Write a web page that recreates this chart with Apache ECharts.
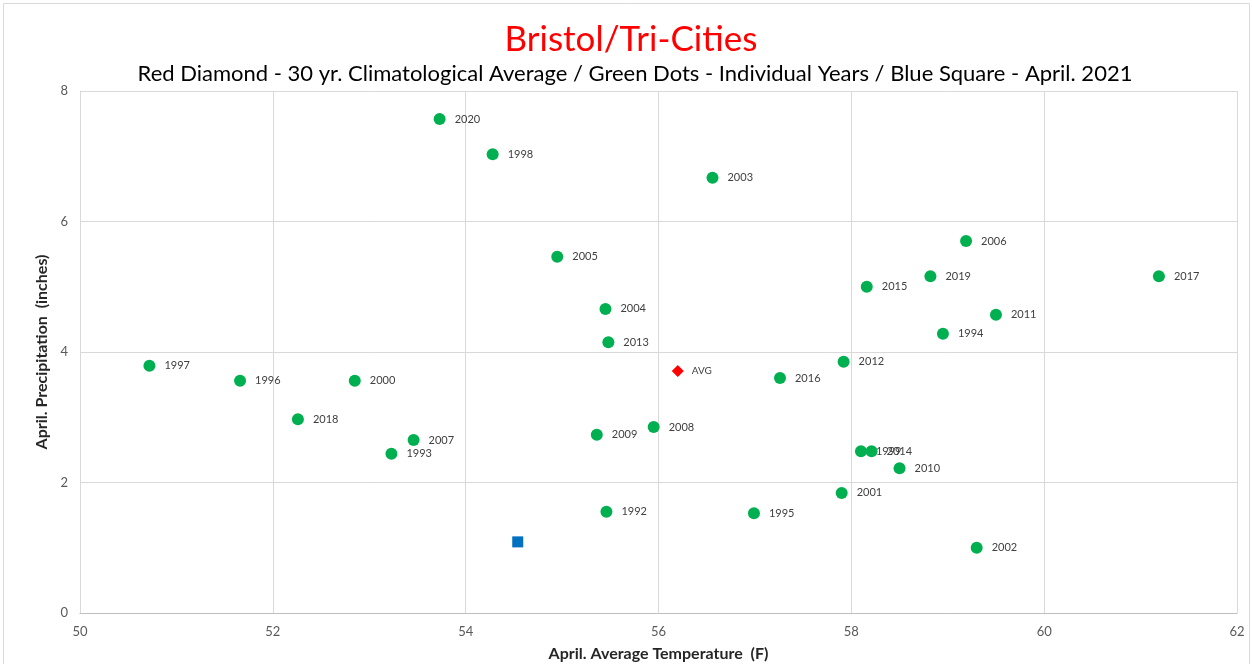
<!DOCTYPE html>
<html>
<head>
<meta charset="utf-8">
<script src="https://cdn.jsdelivr.net/npm/echarts@6/dist/echarts.min.js"></script>
<style>
  html, body { margin: 0; padding: 0; background: #fff; }
  #main { width: 1252px; height: 664px; }
</style>
</head>
<body>
<div id="main"></div>
<script>
// individual years
const years = ['2020', '1998', '2003', '2005', '2006', '2019', '2017', '2015', '2011', '2004',
  '1994', '2013', '2012', '1997', '1996', '2000', '2016', '2018', '2007', '1993',
  '2009', '2008', '1999', '2014', '2010', '2001', '1992', '1995', '2002'];
const temps = [53.73, 54.28, 56.56, 54.95, 59.19, 58.82, 61.19, 58.16, 59.50, 55.45,
  58.95, 55.48, 57.92, 50.72, 51.66, 52.85, 57.26, 52.26, 53.46, 53.23,
  55.36, 55.95, 58.10, 58.21, 58.50, 57.90, 55.46, 56.99, 59.30];
const precips = [7.57, 7.03, 6.67, 5.46, 5.70, 5.16, 5.16, 5.00, 4.57, 4.66,
  4.28, 4.15, 3.85, 3.79, 3.56, 3.56, 3.60, 2.97, 2.65, 2.44,
  2.73, 2.85, 2.48, 2.48, 2.22, 1.84, 1.55, 1.53, 1.00];
// 30 yr average
const avgPoint = [56.20, 3.71];
// April 2021
const currentPoint = [54.54, 1.09];

const xTicks = [50, 62, 2];
const yTicks = [0, 8, 2];

const chart = echarts.init(document.getElementById('main'));
const font = 'Lato';

const yearData = years.map((y, i) => ({ name: y, value: [temps[i], precips[i]] }));

chart.setOption({
  animation: false,
  textStyle: { fontFamily: font },
  title: [
    {
      text: 'Bristol/Tri-Cities',
      left: 626,
      textAlign: 'center',
      top: 17,
      textStyle: { color: '#ff0000', fontSize: 35, fontWeight: 'normal', fontFamily: font }
    },
    {
      text: 'Red Diamond - 30 yr. Climatological Average / Green Dots - Individual Years / Blue Square - April. 2021',
      left: 630,
      textAlign: 'center',
      top: 58,
      textStyle: { color: '#000', fontSize: 22, fontWeight: 'normal', fontFamily: font }
    }
  ],
  graphic: [{
    type: 'rect',
    shape: { x: 3.5, y: 3.5, width: 1246, height: 670 },
    style: { fill: 'none', stroke: '#d9d9d9', lineWidth: 1 },
    silent: true
  }],
  grid: { left: 80, right: 15, top: 91, bottom: 51, outerBoundsMode: 'none', containLabel: false },
  xAxis: {
    type: 'value',
    min: xTicks[0], max: xTicks[1], interval: xTicks[2],
    name: 'April. Average Temperature  (F)',
    nameLocation: 'middle',
    nameGap: 33,
    nameTextStyle: { fontSize: 16, fontWeight: 'bold', color: '#262626', fontFamily: font },
    axisLine: { lineStyle: { color: '#bfbfbf' } },
    axisTick: { show: false },
    axisLabel: { color: '#595959', fontSize: 13, margin: 12 },
    splitLine: { lineStyle: { color: '#d9d9d9' } }
  },
  yAxis: {
    type: 'value',
    min: yTicks[0], max: yTicks[1], interval: yTicks[2],
    name: 'April. Precipitation  (inches)',
    nameLocation: 'middle',
    nameGap: 26,
    nameTextStyle: { fontSize: 16, fontWeight: 'bold', color: '#262626', fontFamily: font },
    axisLine: { show: true, lineStyle: { color: '#d9d9d9' } },
    axisTick: { show: false },
    axisLabel: { color: '#595959', fontSize: 13, margin: 12 },
    splitLine: { lineStyle: { color: '#d9d9d9' } }
  },
  series: [
    {
      type: 'scatter',
      symbol: 'circle',
      symbolSize: 12,
      itemStyle: { color: '#00b050', opacity: 1 },
      data: yearData,
      label: {
        show: true,
        position: 'right',
        distance: 9,
        formatter: p => p.name,
        color: '#404040',
        fontSize: 11
      },
      labelLayout: { hideOverlap: false }
    },
    {
      type: 'scatter',
      symbol: 'diamond',
      symbolSize: 12,
      itemStyle: { color: '#ff0000', opacity: 1 },
      data: [{ name: 'AVG', value: avgPoint }],
      label: {
        show: true,
        position: 'right',
        distance: 8,
        formatter: 'AVG',
        color: '#404040',
        fontSize: 10
      }
    },
    {
      type: 'scatter',
      symbol: 'rect',
      symbolSize: 11,
      itemStyle: { color: '#0070c0', opacity: 1 },
      data: [currentPoint]
    }
  ]
});
</script>
</body>
</html>
